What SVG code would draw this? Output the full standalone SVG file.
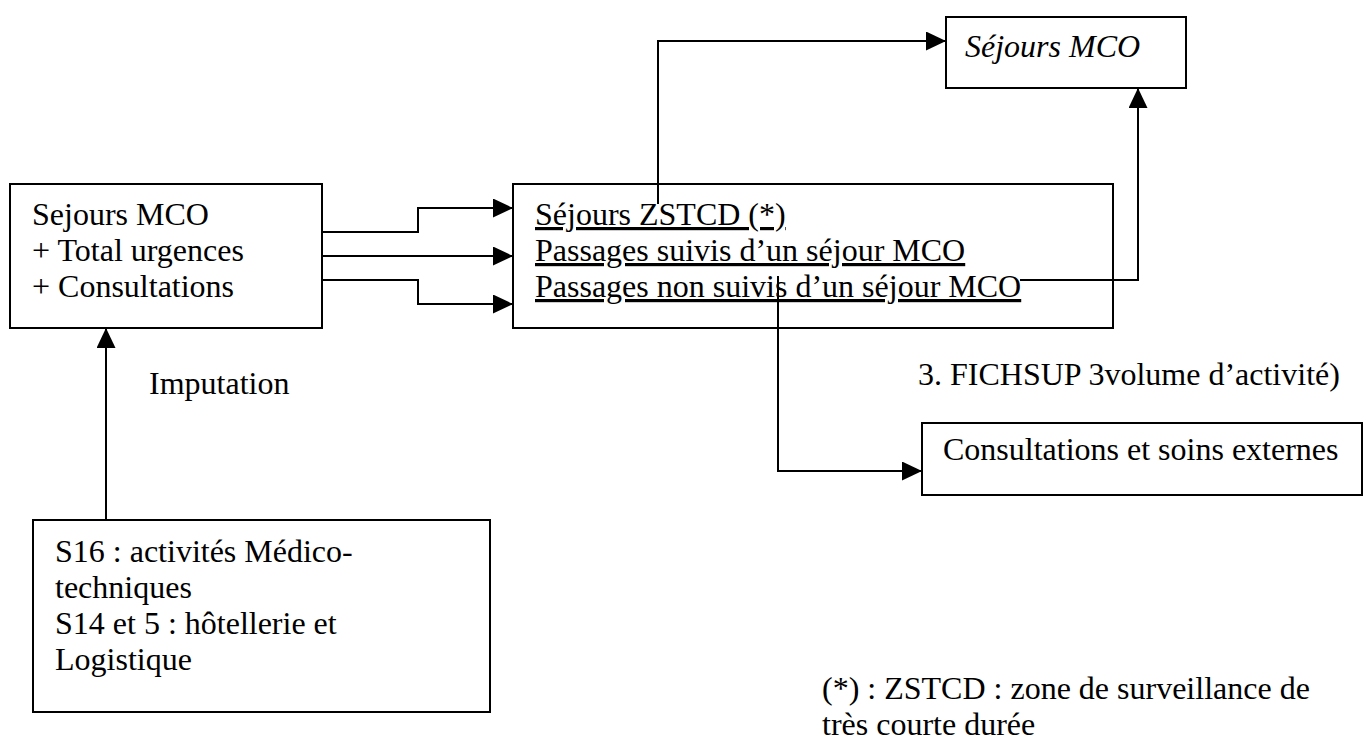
<svg xmlns="http://www.w3.org/2000/svg" width="1367" height="743" viewBox="0 0 1367 743">
<style>
.box{fill:#fff;stroke:#000;stroke-width:2}
.t{font-family:"Liberation Serif","Times New Roman",serif;font-size:32px;fill:#000}
.i{font-style:italic}
.u{text-decoration:underline}
.c{fill:none;stroke:#000;stroke-width:2}
</style>
<defs>
<marker id="ah" markerUnits="userSpaceOnUse" markerWidth="20" markerHeight="19" refX="20" refY="9.5" orient="auto">
<path d="M0,0 L20,9.5 L0,19 z" fill="#000"/>
</marker>
</defs>
<rect width="1367" height="743" fill="#fff"/>
<g id="n-sejours-total">
<rect class="box" x="10" y="184" width="312" height="144"/>
<text class="t" x="32" y="225">Sejours MCO</text>
<text class="t" x="32" y="261">+ Total urgences</text>
<text class="t" x="32" y="297">+ Consultations</text>
</g>
<g id="n-zstcd">
<rect class="box" x="513" y="184" width="600" height="144"/>
<text class="t u" x="535" y="225">Séjours ZSTCD (*)</text>
<text class="t u" x="535" y="261">Passages suivis d’un séjour MCO</text>
<text class="t u" x="535" y="297">Passages non suivis d’un séjour MCO</text>
</g>
<g id="n-sejours-mco">
<rect class="box" x="946" y="17" width="240" height="71"/>
<text class="t i" x="965" y="57">Séjours MCO</text>
</g>
<g id="n-consultations">
<rect class="box" x="922" y="423" width="440" height="72"/>
<text class="t" x="943" y="460">Consultations et soins externes</text>
</g>
<g id="n-s16">
<rect class="box" x="33" y="520" width="457" height="192"/>
<text class="t" x="55" y="562">S16 : activités Médico-</text>
<text class="t" x="55" y="598">techniques</text>
<text class="t" x="55" y="634">S14 et 5 : hôtellerie et</text>
<text class="t" x="55" y="670">Logistique</text>
</g>
<g id="labels">
<text class="t" x="149" y="394">Imputation</text>
<text class="t" x="918" y="385">3. FICHSUP 3volume d’activité)</text>
<text class="t" x="822" y="699">(*) : ZSTCD : zone de surveillance de</text>
<text class="t" x="822" y="735">très courte durée</text>
</g>
<g id="connectors">
<path class="c" d="M322,232 H418 V208 H513" marker-end="url(#ah)"/>
<path class="c" d="M322,256 H513" marker-end="url(#ah)"/>
<path class="c" d="M322,280 H418 V304 H513" marker-end="url(#ah)"/>
<path class="c" d="M106,520 V328" marker-end="url(#ah)"/>
<path class="c" d="M658,204 V41 H946" marker-end="url(#ah)"/>
<path class="c" d="M1020,280 H1138 V88" marker-end="url(#ah)"/>
<path class="c" d="M778,276 V471 H922" marker-end="url(#ah)"/>
</g>
</svg>
